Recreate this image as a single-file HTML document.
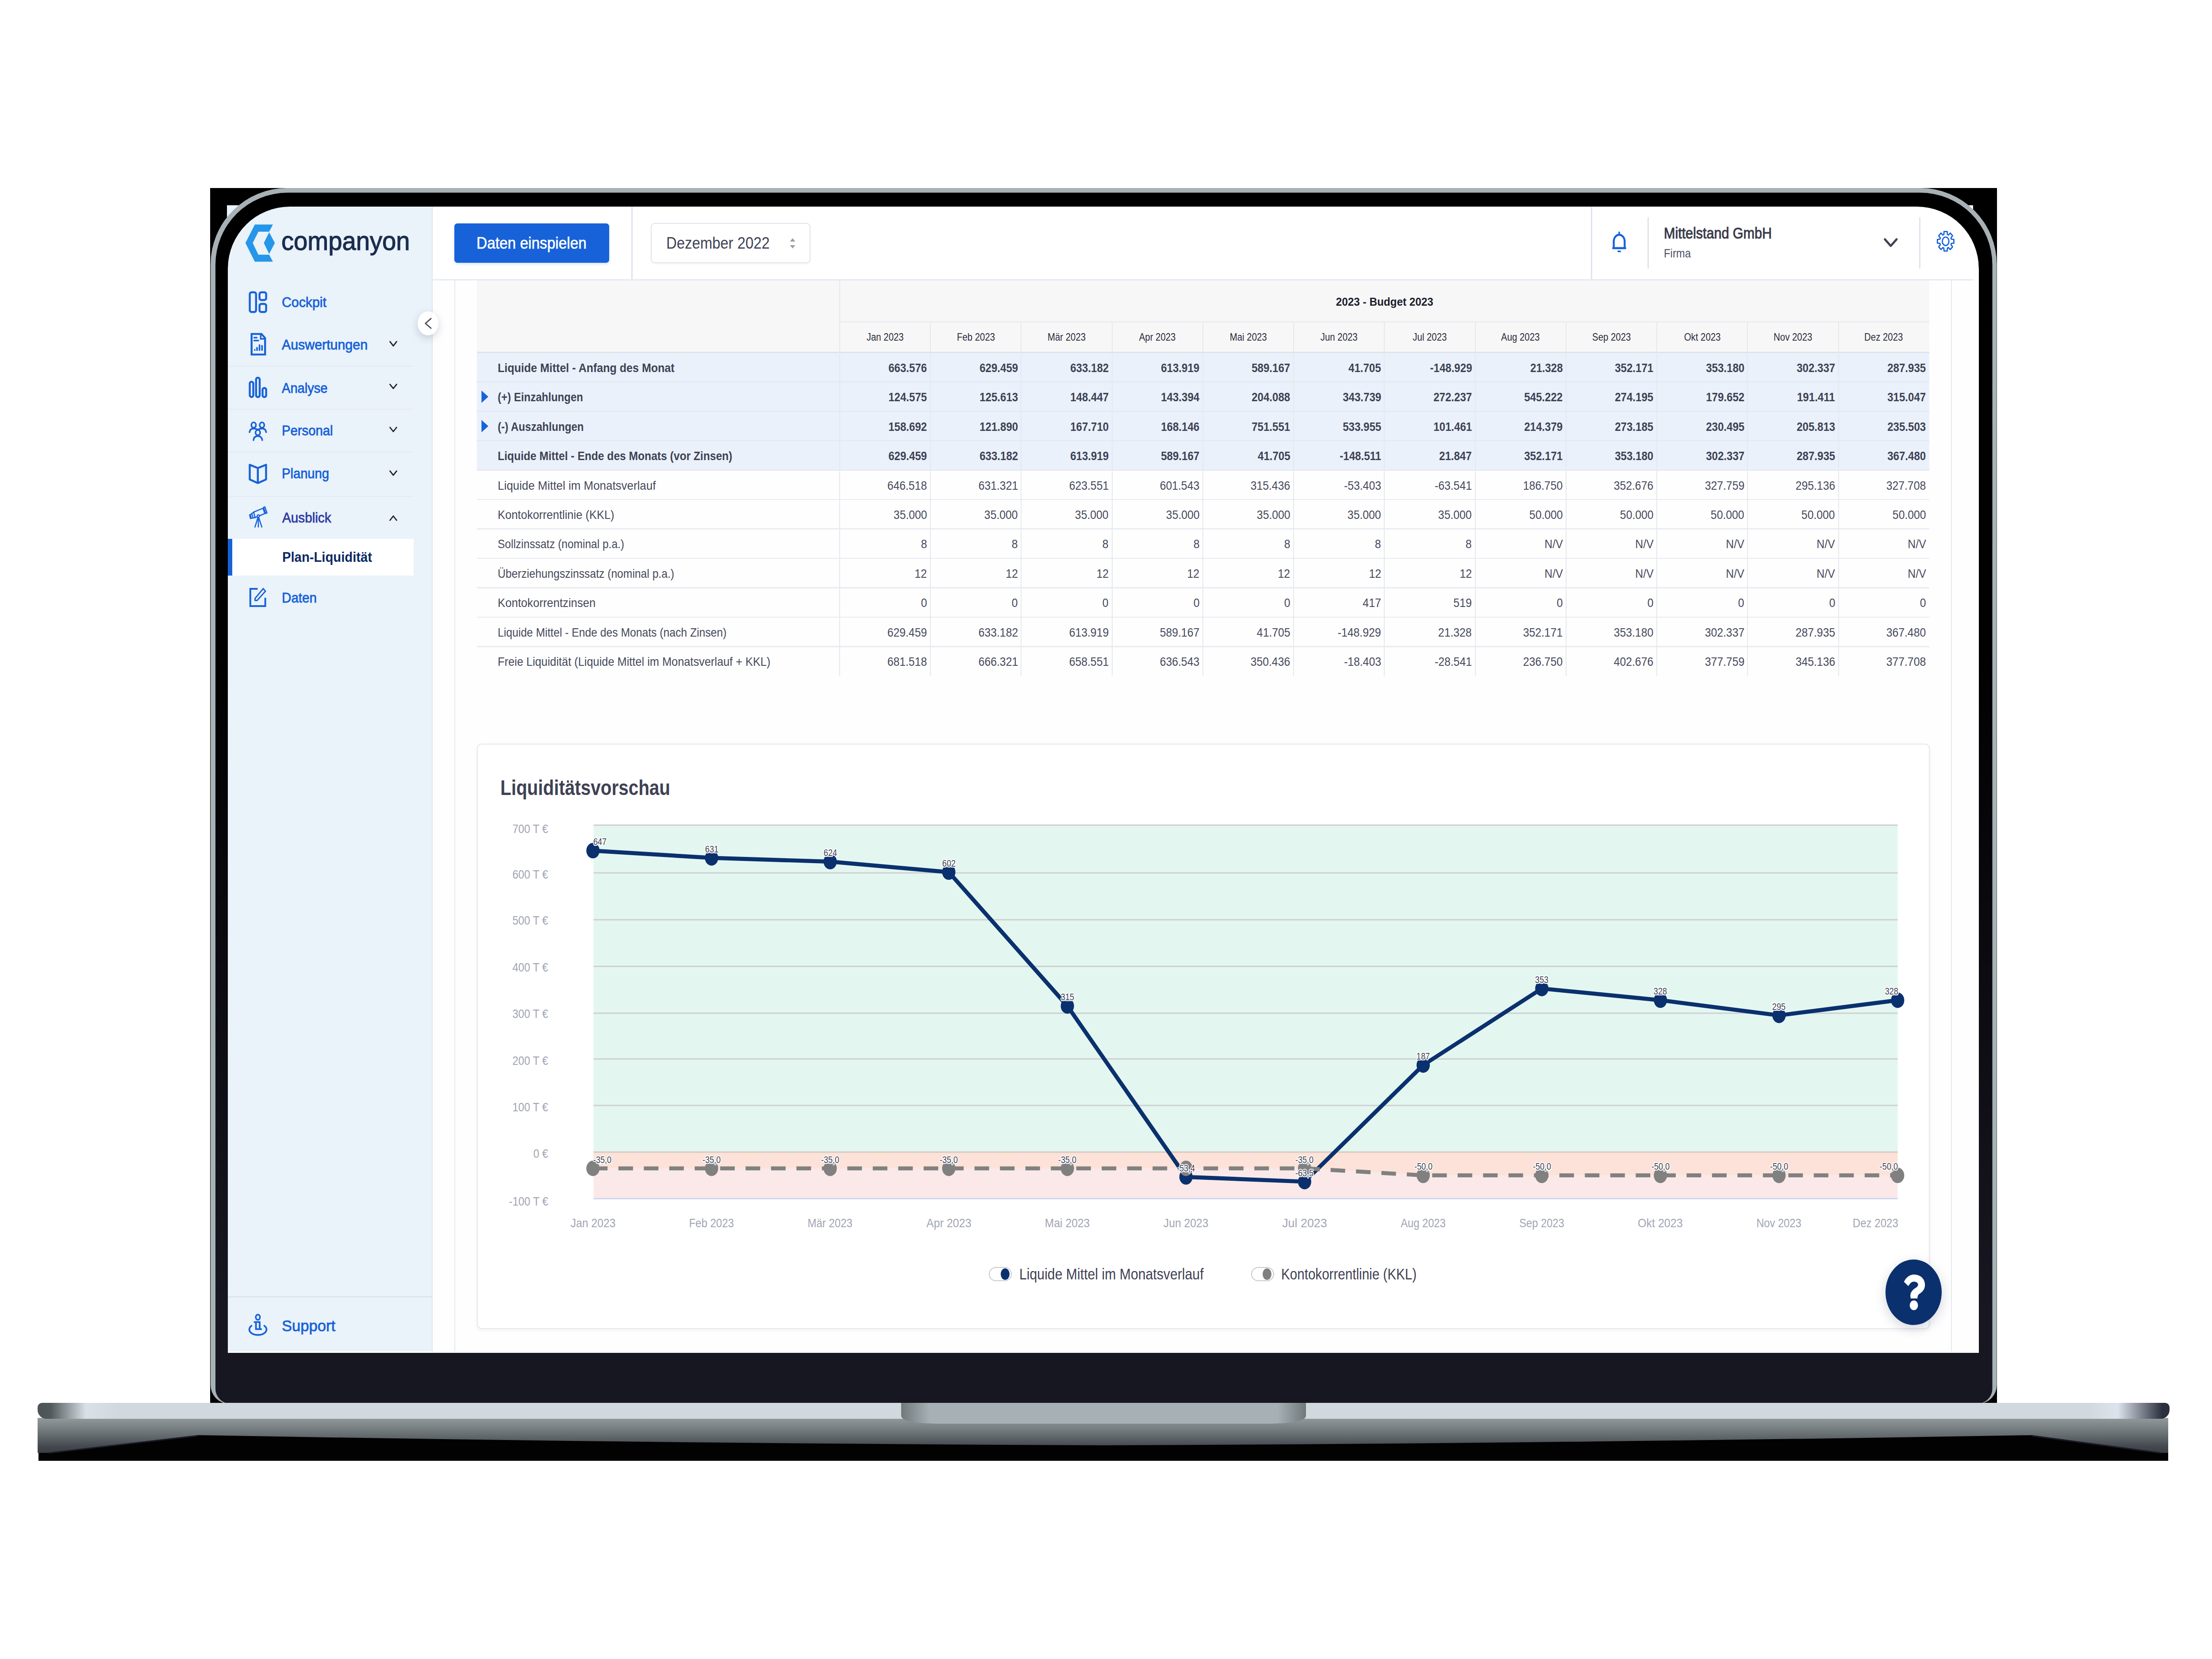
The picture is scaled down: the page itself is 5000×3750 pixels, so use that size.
<!DOCTYPE html>
<html lang="de"><head><meta charset="utf-8"><title>companyon – Plan-Liquidität</title>
<style>
html,body{margin:0;padding:0;background:#fff}
body{width:5000px;height:3750px;position:relative;overflow:hidden;font-family:"Liberation Sans",sans-serif}
.r,.a,.t{position:absolute}
.t{white-space:nowrap;line-height:1;display:block}
#blk{left:475px;top:425px;width:4039px;height:2747px;background:#000}
#wht{left:515px;top:467px;width:3958px;height:2591px;background:#fefefe;border-radius:140px 140px 0 0}
#scr{left:513px;top:464px;width:3947px;height:2591px;overflow:hidden;background:#fefefe}
</style></head><body>
<div id="blk" class="r"></div>
<div id="wht" class="r"></div>
<div id="scr" class="r">
<div class="r" style="left:0.0px;top:0.0px;width:464.5px;height:2591.0px;background:#eaf2fa;"></div>
<div class="r" style="left:462.5px;top:0.0px;width:2.5px;height:2591.0px;background:#dfe5f0;"></div>
<div class="r" style="left:465.0px;top:0.0px;width:3482.0px;height:167.0px;background:#fff;"></div>
<div class="r" style="left:465.0px;top:167.0px;width:3482.0px;height:3.0px;background:#e8eaf2;"></div>
<div class="r" style="left:914.4px;top:0.0px;width:2.4px;height:168.0px;background:#e0e3ed;"></div>
<div class="r" style="left:3083.4px;top:0.0px;width:2.4px;height:168.0px;background:#e0e3ed;"></div>
<div class="r" style="left:3211.4px;top:27.0px;width:2.4px;height:116.0px;background:#e0e3ed;"></div>
<div class="r" style="left:3825.4px;top:27.0px;width:2.4px;height:116.0px;background:#e0e3ed;"></div>
<div class="r" style="left:513.8px;top:170.0px;width:2.6px;height:2421.0px;background:#e6e8f1;"></div>
<div class="r" style="left:3896.8px;top:170.0px;width:2.6px;height:2421.0px;background:#e6e8f1;"></div>
<svg class="a" style="left:37px;top:36px" width="80" height="100" viewBox="550 500 80 100"><path fill="#2596ea" d="M554.8,549.2 L576,507.5 L616.9,507.5 L608.4,523.8 L584,523.8 L571.3,549.2 L584,575.8 L608.4,575.8 L616.9,591.6 L576,591.6 Z"/><path fill="#2596ea" d="M608.4,525.1 L621.3,549.2 L608.4,574.1 L596.4,549.2 Z"/></svg>
<span class="t" style="left:122.9px;top:51.5px;font-size:58.5px;color:#1b2d4e;transform:scaleX(0.9605);transform-origin:0 50%;-webkit-text-stroke:1.3px #1b2d4e;">companyon</span>
<span class="t" style="left:124.0px;top:204.1px;font-size:31.0px;color:#1762d9;transform:scaleX(0.9771);transform-origin:0 50%;-webkit-text-stroke:0.9px #1762d9;">Cockpit</span>
<span class="t" style="left:124.0px;top:300.3px;font-size:31.0px;color:#1762d9;transform:scaleX(0.9789);transform-origin:0 50%;-webkit-text-stroke:0.9px #1762d9;">Auswertungen</span>
<span class="t" style="left:124.0px;top:397.6px;font-size:31.0px;color:#1762d9;transform:scaleX(0.9385);transform-origin:0 50%;-webkit-text-stroke:0.9px #1762d9;">Analyse</span>
<span class="t" style="left:124.0px;top:493.8px;font-size:31.0px;color:#1762d9;transform:scaleX(0.9440);transform-origin:0 50%;-webkit-text-stroke:0.9px #1762d9;">Personal</span>
<span class="t" style="left:124.0px;top:590.8px;font-size:31.0px;color:#1762d9;transform:scaleX(0.9405);transform-origin:0 50%;-webkit-text-stroke:0.9px #1762d9;">Planung</span>
<span class="t" style="left:124.0px;top:871.8px;font-size:31.0px;color:#1762d9;transform:scaleX(0.9550);transform-origin:0 50%;-webkit-text-stroke:0.9px #1762d9;">Daten</span>
<span class="t" style="left:124.5px;top:691.1px;font-size:31.0px;color:#2f3ea5;transform:scaleX(0.9573);transform-origin:0 50%;-webkit-text-stroke:0.9px #2f3ea5;">Ausblick</span>
<div class="r" style="left:0.0px;top:754.3px;width:12.0px;height:82.7px;background:#1762d9;"></div>
<div class="r" style="left:12.0px;top:754.3px;width:410.0px;height:82.7px;background:#fff;"></div>
<span class="t" style="left:124.5px;top:779.7px;font-size:30.5px;color:#0b2a63;transform:scaleX(0.9585);transform-origin:0 50%;font-weight:700;">Plan-Liquidität</span>
<span class="t" style="left:124.0px;top:2515.1px;font-size:35.0px;color:#1762d9;transform:scaleX(0.9871);transform-origin:0 50%;-webkit-text-stroke:0.9px #1762d9;">Support</span>
<div class="r" style="left:2.0px;top:362.5px;width:420.0px;height:2.0px;background:#e5eaf4;"></div>
<div class="r" style="left:2.0px;top:460.0px;width:420.0px;height:2.0px;background:#e5eaf4;"></div>
<div class="r" style="left:2.0px;top:557.0px;width:420.0px;height:2.0px;background:#e5eaf4;"></div>
<div class="r" style="left:2.0px;top:657.0px;width:420.0px;height:2.0px;background:#e5eaf4;"></div>
<div class="r" style="left:2.0px;top:2465.5px;width:461.0px;height:3.0px;background:#dde3ee;"></div>

<div class="r" style="left:431px;top:240.29999999999995px;width:46.5px;height:53.7px;border-radius:50%;background:#fff;box-shadow:0 6px 18px rgba(60,70,100,.22)"></div>
<svg class="a" style="left:431px;top:240px" width="47" height="54" viewBox="944 704 47 54"><path d="M974.3,720 L961.6,731 L974.3,742" fill="none" stroke="#3f4254" stroke-width="2.6" stroke-linecap="round" stroke-linejoin="round"/></svg>
<div class="r" style="left:513.7px;top:40.5px;width:350px;height:89.5px;border-radius:7px;background:#1762d9;box-shadow:0 3px 6px rgba(23,98,217,.18)"></div>
<span class="t" style="left:564.2px;top:67.1px;font-size:37.7px;color:#fff;transform:scaleX(0.8866);transform-origin:0 50%;-webkit-text-stroke:0.7px #fff;">Daten einspielen</span>
<div class="r" style="left:958px;top:39.5px;width:360.8px;height:91px;border-radius:9px;background:#fff;border:2.2px solid #e2e4ed;box-sizing:border-box;box-shadow:0 2px 4px rgba(0,0,0,.04)"></div>
<span class="t" style="left:992.8px;top:67.1px;font-size:37.7px;color:#3f4254;transform:scaleX(0.8716);transform-origin:0 50%;">Dezember 2022</span>
<span class="t" style="left:3248.3px;top:45.7px;font-size:34.7px;color:#3a3c4c;transform:scaleX(0.8787);transform-origin:0 50%;-webkit-text-stroke:1.1px #3a3c4c;">Mittelstand GmbH</span>
<span class="t" style="left:3248.3px;top:95.3px;font-size:28.0px;color:#4f5366;transform:scaleX(0.8526);transform-origin:0 50%;">Firma</span>
<div class="r" style="left:564.7px;top:170.0px;width:3283.1px;height:162.8px;background:#f7f7f8;"></div>
<div class="r" style="left:564.7px;top:332.8px;width:3283.1px;height:265.9px;background:#eaf1fb;"></div>
<div class="r" style="left:1384.7px;top:262.3px;width:2463.1px;height:2.3px;background:#ececf0;"></div>
<div class="r" style="left:564.7px;top:331.3px;width:3283.1px;height:3.0px;background:#dfe2ea;"></div>
<div class="r" style="left:564.7px;top:398.1px;width:3283.1px;height:2.4px;background:#e3e6ee;"></div>
<div class="r" style="left:564.7px;top:464.5px;width:3283.1px;height:2.4px;background:#e3e6ee;"></div>
<div class="r" style="left:564.7px;top:531.0px;width:3283.1px;height:2.4px;background:#e3e6ee;"></div>
<div class="r" style="left:564.7px;top:597.5px;width:3283.1px;height:2.4px;background:#e3e6ee;"></div>
<div class="r" style="left:564.7px;top:664.0px;width:3283.1px;height:2.4px;background:#e9ebf1;"></div>
<div class="r" style="left:564.7px;top:730.4px;width:3283.1px;height:2.4px;background:#e9ebf1;"></div>
<div class="r" style="left:564.7px;top:796.9px;width:3283.1px;height:2.4px;background:#e9ebf1;"></div>
<div class="r" style="left:564.7px;top:863.4px;width:3283.1px;height:2.4px;background:#e9ebf1;"></div>
<div class="r" style="left:564.7px;top:929.9px;width:3283.1px;height:2.4px;background:#e9ebf1;"></div>
<div class="r" style="left:564.7px;top:996.3px;width:3283.1px;height:2.4px;background:#e9ebf1;"></div>
<div class="r" style="left:1383.7px;top:170.0px;width:2.0px;height:894.0px;background:#e6e8ee;"></div>
<div class="r" style="left:1589.0px;top:263.6px;width:2.0px;height:800.4px;background:#e6e8ee;"></div>
<div class="r" style="left:1794.2px;top:263.6px;width:2.0px;height:800.4px;background:#e6e8ee;"></div>
<div class="r" style="left:1999.5px;top:263.6px;width:2.0px;height:800.4px;background:#e6e8ee;"></div>
<div class="r" style="left:2204.7px;top:263.6px;width:2.0px;height:800.4px;background:#e6e8ee;"></div>
<div class="r" style="left:2410.0px;top:263.6px;width:2.0px;height:800.4px;background:#e6e8ee;"></div>
<div class="r" style="left:2615.2px;top:263.6px;width:2.0px;height:800.4px;background:#e6e8ee;"></div>
<div class="r" style="left:2820.5px;top:263.6px;width:2.0px;height:800.4px;background:#e6e8ee;"></div>
<div class="r" style="left:3025.8px;top:263.6px;width:2.0px;height:800.4px;background:#e6e8ee;"></div>
<div class="r" style="left:3231.0px;top:263.6px;width:2.0px;height:800.4px;background:#e6e8ee;"></div>
<div class="r" style="left:3436.3px;top:263.6px;width:2.0px;height:800.4px;background:#e6e8ee;"></div>
<div class="r" style="left:3641.5px;top:263.6px;width:2.0px;height:800.4px;background:#e6e8ee;"></div>
<span class="t" style="left:2498.5px;top:204.7px;font-size:26.0px;color:#1e1e2d;transform:scaleX(0.9340);transform-origin:50% 50%;font-weight:700;">2023 - Budget 2023</span>
<span class="t" style="left:1438.6px;top:287.3px;font-size:23.7px;color:#2b2d3b;transform:scaleX(0.8600);transform-origin:50% 50%;">Jan 2023</span>
<span class="t" style="left:1642.5px;top:287.3px;font-size:23.7px;color:#2b2d3b;transform:scaleX(0.8600);transform-origin:50% 50%;">Feb 2023</span>
<span class="t" style="left:1847.8px;top:287.3px;font-size:23.7px;color:#2b2d3b;transform:scaleX(0.8600);transform-origin:50% 50%;">Mär 2023</span>
<span class="t" style="left:2055.0px;top:287.3px;font-size:23.7px;color:#2b2d3b;transform:scaleX(0.8600);transform-origin:50% 50%;">Apr 2023</span>
<span class="t" style="left:2259.6px;top:287.3px;font-size:23.7px;color:#2b2d3b;transform:scaleX(0.8600);transform-origin:50% 50%;">Mai 2023</span>
<span class="t" style="left:2464.9px;top:287.3px;font-size:23.7px;color:#2b2d3b;transform:scaleX(0.8600);transform-origin:50% 50%;">Jun 2023</span>
<span class="t" style="left:2674.1px;top:287.3px;font-size:23.7px;color:#2b2d3b;transform:scaleX(0.8600);transform-origin:50% 50%;">Jul 2023</span>
<span class="t" style="left:2873.4px;top:287.3px;font-size:23.7px;color:#2b2d3b;transform:scaleX(0.8600);transform-origin:50% 50%;">Aug 2023</span>
<span class="t" style="left:3078.7px;top:287.3px;font-size:23.7px;color:#2b2d3b;transform:scaleX(0.8600);transform-origin:50% 50%;">Sep 2023</span>
<span class="t" style="left:3286.6px;top:287.3px;font-size:23.7px;color:#2b2d3b;transform:scaleX(0.8600);transform-origin:50% 50%;">Okt 2023</span>
<span class="t" style="left:3489.2px;top:287.3px;font-size:23.7px;color:#2b2d3b;transform:scaleX(0.8600);transform-origin:50% 50%;">Nov 2023</span>
<span class="t" style="left:3694.4px;top:287.3px;font-size:23.7px;color:#2b2d3b;transform:scaleX(0.8600);transform-origin:50% 50%;">Dez 2023</span>
<span class="t" style="left:612.3px;top:353.6px;font-size:28.0px;color:#3f4254;transform:scaleX(0.8941);transform-origin:0 50%;font-weight:700;">Liquide Mittel - Anfang des Monat</span>
<span class="t" style="left:1481.2px;top:353.6px;font-size:28.0px;color:#3f4254;transform:scaleX(0.8600);transform-origin:100% 50%;font-weight:700;">663.576</span>
<span class="t" style="left:1686.5px;top:353.6px;font-size:28.0px;color:#3f4254;transform:scaleX(0.8600);transform-origin:100% 50%;font-weight:700;">629.459</span>
<span class="t" style="left:1891.8px;top:353.6px;font-size:28.0px;color:#3f4254;transform:scaleX(0.8600);transform-origin:100% 50%;font-weight:700;">633.182</span>
<span class="t" style="left:2097.0px;top:353.6px;font-size:28.0px;color:#3f4254;transform:scaleX(0.8600);transform-origin:100% 50%;font-weight:700;">613.919</span>
<span class="t" style="left:2302.3px;top:353.6px;font-size:28.0px;color:#3f4254;transform:scaleX(0.8600);transform-origin:100% 50%;font-weight:700;">589.167</span>
<span class="t" style="left:2523.1px;top:353.6px;font-size:28.0px;color:#3f4254;transform:scaleX(0.8600);transform-origin:100% 50%;font-weight:700;">41.705</span>
<span class="t" style="left:2703.5px;top:353.6px;font-size:28.0px;color:#3f4254;transform:scaleX(0.8600);transform-origin:100% 50%;font-weight:700;">-148.929</span>
<span class="t" style="left:2933.6px;top:353.6px;font-size:28.0px;color:#3f4254;transform:scaleX(0.8600);transform-origin:100% 50%;font-weight:700;">21.328</span>
<span class="t" style="left:3123.3px;top:353.6px;font-size:28.0px;color:#3f4254;transform:scaleX(0.8600);transform-origin:100% 50%;font-weight:700;">352.171</span>
<span class="t" style="left:3328.6px;top:353.6px;font-size:28.0px;color:#3f4254;transform:scaleX(0.8600);transform-origin:100% 50%;font-weight:700;">353.180</span>
<span class="t" style="left:3533.8px;top:353.6px;font-size:28.0px;color:#3f4254;transform:scaleX(0.8600);transform-origin:100% 50%;font-weight:700;">302.337</span>
<span class="t" style="left:3739.1px;top:353.6px;font-size:28.0px;color:#3f4254;transform:scaleX(0.8600);transform-origin:100% 50%;font-weight:700;">287.935</span>
<span class="t" style="left:612.3px;top:420.1px;font-size:28.0px;color:#3f4254;transform:scaleX(0.8586);transform-origin:0 50%;font-weight:700;">(+) Einzahlungen</span>
<span class="t" style="left:1481.2px;top:420.1px;font-size:28.0px;color:#3f4254;transform:scaleX(0.8600);transform-origin:100% 50%;font-weight:700;">124.575</span>
<span class="t" style="left:1686.5px;top:420.1px;font-size:28.0px;color:#3f4254;transform:scaleX(0.8600);transform-origin:100% 50%;font-weight:700;">125.613</span>
<span class="t" style="left:1891.8px;top:420.1px;font-size:28.0px;color:#3f4254;transform:scaleX(0.8600);transform-origin:100% 50%;font-weight:700;">148.447</span>
<span class="t" style="left:2097.0px;top:420.1px;font-size:28.0px;color:#3f4254;transform:scaleX(0.8600);transform-origin:100% 50%;font-weight:700;">143.394</span>
<span class="t" style="left:2302.3px;top:420.1px;font-size:28.0px;color:#3f4254;transform:scaleX(0.8600);transform-origin:100% 50%;font-weight:700;">204.088</span>
<span class="t" style="left:2507.5px;top:420.1px;font-size:28.0px;color:#3f4254;transform:scaleX(0.8600);transform-origin:100% 50%;font-weight:700;">343.739</span>
<span class="t" style="left:2712.8px;top:420.1px;font-size:28.0px;color:#3f4254;transform:scaleX(0.8600);transform-origin:100% 50%;font-weight:700;">272.237</span>
<span class="t" style="left:2918.1px;top:420.1px;font-size:28.0px;color:#3f4254;transform:scaleX(0.8600);transform-origin:100% 50%;font-weight:700;">545.222</span>
<span class="t" style="left:3123.3px;top:420.1px;font-size:28.0px;color:#3f4254;transform:scaleX(0.8600);transform-origin:100% 50%;font-weight:700;">274.195</span>
<span class="t" style="left:3328.6px;top:420.1px;font-size:28.0px;color:#3f4254;transform:scaleX(0.8600);transform-origin:100% 50%;font-weight:700;">179.652</span>
<span class="t" style="left:3535.4px;top:420.1px;font-size:28.0px;color:#3f4254;transform:scaleX(0.8600);transform-origin:100% 50%;font-weight:700;">191.411</span>
<span class="t" style="left:3739.1px;top:420.1px;font-size:28.0px;color:#3f4254;transform:scaleX(0.8600);transform-origin:100% 50%;font-weight:700;">315.047</span>
<span class="t" style="left:612.3px;top:486.5px;font-size:28.0px;color:#3f4254;transform:scaleX(0.8604);transform-origin:0 50%;font-weight:700;">(-) Auszahlungen</span>
<span class="t" style="left:1481.2px;top:486.5px;font-size:28.0px;color:#3f4254;transform:scaleX(0.8600);transform-origin:100% 50%;font-weight:700;">158.692</span>
<span class="t" style="left:1686.5px;top:486.5px;font-size:28.0px;color:#3f4254;transform:scaleX(0.8600);transform-origin:100% 50%;font-weight:700;">121.890</span>
<span class="t" style="left:1891.8px;top:486.5px;font-size:28.0px;color:#3f4254;transform:scaleX(0.8600);transform-origin:100% 50%;font-weight:700;">167.710</span>
<span class="t" style="left:2097.0px;top:486.5px;font-size:28.0px;color:#3f4254;transform:scaleX(0.8600);transform-origin:100% 50%;font-weight:700;">168.146</span>
<span class="t" style="left:2302.3px;top:486.5px;font-size:28.0px;color:#3f4254;transform:scaleX(0.8600);transform-origin:100% 50%;font-weight:700;">751.551</span>
<span class="t" style="left:2507.5px;top:486.5px;font-size:28.0px;color:#3f4254;transform:scaleX(0.8600);transform-origin:100% 50%;font-weight:700;">533.955</span>
<span class="t" style="left:2712.8px;top:486.5px;font-size:28.0px;color:#3f4254;transform:scaleX(0.8600);transform-origin:100% 50%;font-weight:700;">101.461</span>
<span class="t" style="left:2918.1px;top:486.5px;font-size:28.0px;color:#3f4254;transform:scaleX(0.8600);transform-origin:100% 50%;font-weight:700;">214.379</span>
<span class="t" style="left:3123.3px;top:486.5px;font-size:28.0px;color:#3f4254;transform:scaleX(0.8600);transform-origin:100% 50%;font-weight:700;">273.185</span>
<span class="t" style="left:3328.6px;top:486.5px;font-size:28.0px;color:#3f4254;transform:scaleX(0.8600);transform-origin:100% 50%;font-weight:700;">230.495</span>
<span class="t" style="left:3533.8px;top:486.5px;font-size:28.0px;color:#3f4254;transform:scaleX(0.8600);transform-origin:100% 50%;font-weight:700;">205.813</span>
<span class="t" style="left:3739.1px;top:486.5px;font-size:28.0px;color:#3f4254;transform:scaleX(0.8600);transform-origin:100% 50%;font-weight:700;">235.503</span>
<span class="t" style="left:612.3px;top:553.0px;font-size:28.0px;color:#3f4254;transform:scaleX(0.8786);transform-origin:0 50%;font-weight:700;">Liquide Mittel - Ende des Monats (vor Zinsen)</span>
<span class="t" style="left:1481.2px;top:553.0px;font-size:28.0px;color:#3f4254;transform:scaleX(0.8600);transform-origin:100% 50%;font-weight:700;">629.459</span>
<span class="t" style="left:1686.5px;top:553.0px;font-size:28.0px;color:#3f4254;transform:scaleX(0.8600);transform-origin:100% 50%;font-weight:700;">633.182</span>
<span class="t" style="left:1891.8px;top:553.0px;font-size:28.0px;color:#3f4254;transform:scaleX(0.8600);transform-origin:100% 50%;font-weight:700;">613.919</span>
<span class="t" style="left:2097.0px;top:553.0px;font-size:28.0px;color:#3f4254;transform:scaleX(0.8600);transform-origin:100% 50%;font-weight:700;">589.167</span>
<span class="t" style="left:2317.9px;top:553.0px;font-size:28.0px;color:#3f4254;transform:scaleX(0.8600);transform-origin:100% 50%;font-weight:700;">41.705</span>
<span class="t" style="left:2499.8px;top:553.0px;font-size:28.0px;color:#3f4254;transform:scaleX(0.8600);transform-origin:100% 50%;font-weight:700;">-148.511</span>
<span class="t" style="left:2728.4px;top:553.0px;font-size:28.0px;color:#3f4254;transform:scaleX(0.8600);transform-origin:100% 50%;font-weight:700;">21.847</span>
<span class="t" style="left:2918.1px;top:553.0px;font-size:28.0px;color:#3f4254;transform:scaleX(0.8600);transform-origin:100% 50%;font-weight:700;">352.171</span>
<span class="t" style="left:3123.3px;top:553.0px;font-size:28.0px;color:#3f4254;transform:scaleX(0.8600);transform-origin:100% 50%;font-weight:700;">353.180</span>
<span class="t" style="left:3328.6px;top:553.0px;font-size:28.0px;color:#3f4254;transform:scaleX(0.8600);transform-origin:100% 50%;font-weight:700;">302.337</span>
<span class="t" style="left:3533.8px;top:553.0px;font-size:28.0px;color:#3f4254;transform:scaleX(0.8600);transform-origin:100% 50%;font-weight:700;">287.935</span>
<span class="t" style="left:3739.1px;top:553.0px;font-size:28.0px;color:#3f4254;transform:scaleX(0.8600);transform-origin:100% 50%;font-weight:700;">367.480</span>
<span class="t" style="left:612.3px;top:619.5px;font-size:28.0px;color:#464a5c;transform:scaleX(0.9260);transform-origin:0 50%;">Liquide Mittel im Monatsverlauf</span>
<span class="t" style="left:1481.2px;top:619.5px;font-size:28.0px;color:#464a5c;transform:scaleX(0.8850);transform-origin:100% 50%;">646.518</span>
<span class="t" style="left:1686.5px;top:619.5px;font-size:28.0px;color:#464a5c;transform:scaleX(0.8850);transform-origin:100% 50%;">631.321</span>
<span class="t" style="left:1891.8px;top:619.5px;font-size:28.0px;color:#464a5c;transform:scaleX(0.8850);transform-origin:100% 50%;">623.551</span>
<span class="t" style="left:2097.0px;top:619.5px;font-size:28.0px;color:#464a5c;transform:scaleX(0.8850);transform-origin:100% 50%;">601.543</span>
<span class="t" style="left:2302.3px;top:619.5px;font-size:28.0px;color:#464a5c;transform:scaleX(0.8850);transform-origin:100% 50%;">315.436</span>
<span class="t" style="left:2513.8px;top:619.5px;font-size:28.0px;color:#464a5c;transform:scaleX(0.8850);transform-origin:100% 50%;">-53.403</span>
<span class="t" style="left:2719.0px;top:619.5px;font-size:28.0px;color:#464a5c;transform:scaleX(0.8850);transform-origin:100% 50%;">-63.541</span>
<span class="t" style="left:2918.1px;top:619.5px;font-size:28.0px;color:#464a5c;transform:scaleX(0.8850);transform-origin:100% 50%;">186.750</span>
<span class="t" style="left:3123.3px;top:619.5px;font-size:28.0px;color:#464a5c;transform:scaleX(0.8850);transform-origin:100% 50%;">352.676</span>
<span class="t" style="left:3328.6px;top:619.5px;font-size:28.0px;color:#464a5c;transform:scaleX(0.8850);transform-origin:100% 50%;">327.759</span>
<span class="t" style="left:3533.8px;top:619.5px;font-size:28.0px;color:#464a5c;transform:scaleX(0.8850);transform-origin:100% 50%;">295.136</span>
<span class="t" style="left:3739.1px;top:619.5px;font-size:28.0px;color:#464a5c;transform:scaleX(0.8850);transform-origin:100% 50%;">327.708</span>
<span class="t" style="left:612.3px;top:686.0px;font-size:28.0px;color:#464a5c;transform:scaleX(0.9106);transform-origin:0 50%;">Kontokorrentlinie (KKL)</span>
<span class="t" style="left:1496.8px;top:686.0px;font-size:28.0px;color:#464a5c;transform:scaleX(0.8850);transform-origin:100% 50%;">35.000</span>
<span class="t" style="left:1702.1px;top:686.0px;font-size:28.0px;color:#464a5c;transform:scaleX(0.8850);transform-origin:100% 50%;">35.000</span>
<span class="t" style="left:1907.3px;top:686.0px;font-size:28.0px;color:#464a5c;transform:scaleX(0.8850);transform-origin:100% 50%;">35.000</span>
<span class="t" style="left:2112.6px;top:686.0px;font-size:28.0px;color:#464a5c;transform:scaleX(0.8850);transform-origin:100% 50%;">35.000</span>
<span class="t" style="left:2317.9px;top:686.0px;font-size:28.0px;color:#464a5c;transform:scaleX(0.8850);transform-origin:100% 50%;">35.000</span>
<span class="t" style="left:2523.1px;top:686.0px;font-size:28.0px;color:#464a5c;transform:scaleX(0.8850);transform-origin:100% 50%;">35.000</span>
<span class="t" style="left:2728.4px;top:686.0px;font-size:28.0px;color:#464a5c;transform:scaleX(0.8850);transform-origin:100% 50%;">35.000</span>
<span class="t" style="left:2933.6px;top:686.0px;font-size:28.0px;color:#464a5c;transform:scaleX(0.8850);transform-origin:100% 50%;">50.000</span>
<span class="t" style="left:3138.9px;top:686.0px;font-size:28.0px;color:#464a5c;transform:scaleX(0.8850);transform-origin:100% 50%;">50.000</span>
<span class="t" style="left:3344.1px;top:686.0px;font-size:28.0px;color:#464a5c;transform:scaleX(0.8850);transform-origin:100% 50%;">50.000</span>
<span class="t" style="left:3549.4px;top:686.0px;font-size:28.0px;color:#464a5c;transform:scaleX(0.8850);transform-origin:100% 50%;">50.000</span>
<span class="t" style="left:3754.7px;top:686.0px;font-size:28.0px;color:#464a5c;transform:scaleX(0.8850);transform-origin:100% 50%;">50.000</span>
<span class="t" style="left:612.3px;top:752.4px;font-size:28.0px;color:#464a5c;transform:scaleX(0.8752);transform-origin:0 50%;">Sollzinssatz (nominal p.a.)</span>
<span class="t" style="left:1566.9px;top:752.4px;font-size:28.0px;color:#464a5c;transform:scaleX(0.8850);transform-origin:100% 50%;">8</span>
<span class="t" style="left:1772.1px;top:752.4px;font-size:28.0px;color:#464a5c;transform:scaleX(0.8850);transform-origin:100% 50%;">8</span>
<span class="t" style="left:1977.4px;top:752.4px;font-size:28.0px;color:#464a5c;transform:scaleX(0.8850);transform-origin:100% 50%;">8</span>
<span class="t" style="left:2182.7px;top:752.4px;font-size:28.0px;color:#464a5c;transform:scaleX(0.8850);transform-origin:100% 50%;">8</span>
<span class="t" style="left:2387.9px;top:752.4px;font-size:28.0px;color:#464a5c;transform:scaleX(0.8850);transform-origin:100% 50%;">8</span>
<span class="t" style="left:2593.2px;top:752.4px;font-size:28.0px;color:#464a5c;transform:scaleX(0.8850);transform-origin:100% 50%;">8</span>
<span class="t" style="left:2798.4px;top:752.4px;font-size:28.0px;color:#464a5c;transform:scaleX(0.8850);transform-origin:100% 50%;">8</span>
<span class="t" style="left:2972.6px;top:752.4px;font-size:28.0px;color:#464a5c;transform:scaleX(0.8850);transform-origin:100% 50%;">N/V</span>
<span class="t" style="left:3177.8px;top:752.4px;font-size:28.0px;color:#464a5c;transform:scaleX(0.8850);transform-origin:100% 50%;">N/V</span>
<span class="t" style="left:3383.1px;top:752.4px;font-size:28.0px;color:#464a5c;transform:scaleX(0.8850);transform-origin:100% 50%;">N/V</span>
<span class="t" style="left:3588.4px;top:752.4px;font-size:28.0px;color:#464a5c;transform:scaleX(0.8850);transform-origin:100% 50%;">N/V</span>
<span class="t" style="left:3793.6px;top:752.4px;font-size:28.0px;color:#464a5c;transform:scaleX(0.8850);transform-origin:100% 50%;">N/V</span>
<span class="t" style="left:612.3px;top:818.9px;font-size:28.0px;color:#464a5c;transform:scaleX(0.8810);transform-origin:0 50%;">Überziehungszinssatz (nominal p.a.)</span>
<span class="t" style="left:1551.3px;top:818.9px;font-size:28.0px;color:#464a5c;transform:scaleX(0.8850);transform-origin:100% 50%;">12</span>
<span class="t" style="left:1756.6px;top:818.9px;font-size:28.0px;color:#464a5c;transform:scaleX(0.8850);transform-origin:100% 50%;">12</span>
<span class="t" style="left:1961.8px;top:818.9px;font-size:28.0px;color:#464a5c;transform:scaleX(0.8850);transform-origin:100% 50%;">12</span>
<span class="t" style="left:2167.1px;top:818.9px;font-size:28.0px;color:#464a5c;transform:scaleX(0.8850);transform-origin:100% 50%;">12</span>
<span class="t" style="left:2372.3px;top:818.9px;font-size:28.0px;color:#464a5c;transform:scaleX(0.8850);transform-origin:100% 50%;">12</span>
<span class="t" style="left:2577.6px;top:818.9px;font-size:28.0px;color:#464a5c;transform:scaleX(0.8850);transform-origin:100% 50%;">12</span>
<span class="t" style="left:2782.9px;top:818.9px;font-size:28.0px;color:#464a5c;transform:scaleX(0.8850);transform-origin:100% 50%;">12</span>
<span class="t" style="left:2972.6px;top:818.9px;font-size:28.0px;color:#464a5c;transform:scaleX(0.8850);transform-origin:100% 50%;">N/V</span>
<span class="t" style="left:3177.8px;top:818.9px;font-size:28.0px;color:#464a5c;transform:scaleX(0.8850);transform-origin:100% 50%;">N/V</span>
<span class="t" style="left:3383.1px;top:818.9px;font-size:28.0px;color:#464a5c;transform:scaleX(0.8850);transform-origin:100% 50%;">N/V</span>
<span class="t" style="left:3588.4px;top:818.9px;font-size:28.0px;color:#464a5c;transform:scaleX(0.8850);transform-origin:100% 50%;">N/V</span>
<span class="t" style="left:3793.6px;top:818.9px;font-size:28.0px;color:#464a5c;transform:scaleX(0.8850);transform-origin:100% 50%;">N/V</span>
<span class="t" style="left:612.3px;top:885.4px;font-size:28.0px;color:#464a5c;transform:scaleX(0.9173);transform-origin:0 50%;">Kontokorrentzinsen</span>
<span class="t" style="left:1566.9px;top:885.4px;font-size:28.0px;color:#464a5c;transform:scaleX(0.8850);transform-origin:100% 50%;">0</span>
<span class="t" style="left:1772.1px;top:885.4px;font-size:28.0px;color:#464a5c;transform:scaleX(0.8850);transform-origin:100% 50%;">0</span>
<span class="t" style="left:1977.4px;top:885.4px;font-size:28.0px;color:#464a5c;transform:scaleX(0.8850);transform-origin:100% 50%;">0</span>
<span class="t" style="left:2182.7px;top:885.4px;font-size:28.0px;color:#464a5c;transform:scaleX(0.8850);transform-origin:100% 50%;">0</span>
<span class="t" style="left:2387.9px;top:885.4px;font-size:28.0px;color:#464a5c;transform:scaleX(0.8850);transform-origin:100% 50%;">0</span>
<span class="t" style="left:2562.0px;top:885.4px;font-size:28.0px;color:#464a5c;transform:scaleX(0.8850);transform-origin:100% 50%;">417</span>
<span class="t" style="left:2767.3px;top:885.4px;font-size:28.0px;color:#464a5c;transform:scaleX(0.8850);transform-origin:100% 50%;">519</span>
<span class="t" style="left:3003.7px;top:885.4px;font-size:28.0px;color:#464a5c;transform:scaleX(0.8850);transform-origin:100% 50%;">0</span>
<span class="t" style="left:3209.0px;top:885.4px;font-size:28.0px;color:#464a5c;transform:scaleX(0.8850);transform-origin:100% 50%;">0</span>
<span class="t" style="left:3414.2px;top:885.4px;font-size:28.0px;color:#464a5c;transform:scaleX(0.8850);transform-origin:100% 50%;">0</span>
<span class="t" style="left:3619.5px;top:885.4px;font-size:28.0px;color:#464a5c;transform:scaleX(0.8850);transform-origin:100% 50%;">0</span>
<span class="t" style="left:3824.7px;top:885.4px;font-size:28.0px;color:#464a5c;transform:scaleX(0.8850);transform-origin:100% 50%;">0</span>
<span class="t" style="left:612.3px;top:951.9px;font-size:28.0px;color:#464a5c;transform:scaleX(0.8815);transform-origin:0 50%;">Liquide Mittel - Ende des Monats (nach Zinsen)</span>
<span class="t" style="left:1481.2px;top:951.9px;font-size:28.0px;color:#464a5c;transform:scaleX(0.8850);transform-origin:100% 50%;">629.459</span>
<span class="t" style="left:1686.5px;top:951.9px;font-size:28.0px;color:#464a5c;transform:scaleX(0.8850);transform-origin:100% 50%;">633.182</span>
<span class="t" style="left:1891.8px;top:951.9px;font-size:28.0px;color:#464a5c;transform:scaleX(0.8850);transform-origin:100% 50%;">613.919</span>
<span class="t" style="left:2097.0px;top:951.9px;font-size:28.0px;color:#464a5c;transform:scaleX(0.8850);transform-origin:100% 50%;">589.167</span>
<span class="t" style="left:2317.9px;top:951.9px;font-size:28.0px;color:#464a5c;transform:scaleX(0.8850);transform-origin:100% 50%;">41.705</span>
<span class="t" style="left:2498.2px;top:951.9px;font-size:28.0px;color:#464a5c;transform:scaleX(0.8850);transform-origin:100% 50%;">-148.929</span>
<span class="t" style="left:2728.4px;top:951.9px;font-size:28.0px;color:#464a5c;transform:scaleX(0.8850);transform-origin:100% 50%;">21.328</span>
<span class="t" style="left:2918.1px;top:951.9px;font-size:28.0px;color:#464a5c;transform:scaleX(0.8850);transform-origin:100% 50%;">352.171</span>
<span class="t" style="left:3123.3px;top:951.9px;font-size:28.0px;color:#464a5c;transform:scaleX(0.8850);transform-origin:100% 50%;">353.180</span>
<span class="t" style="left:3328.6px;top:951.9px;font-size:28.0px;color:#464a5c;transform:scaleX(0.8850);transform-origin:100% 50%;">302.337</span>
<span class="t" style="left:3533.8px;top:951.9px;font-size:28.0px;color:#464a5c;transform:scaleX(0.8850);transform-origin:100% 50%;">287.935</span>
<span class="t" style="left:3739.1px;top:951.9px;font-size:28.0px;color:#464a5c;transform:scaleX(0.8850);transform-origin:100% 50%;">367.480</span>
<span class="t" style="left:612.3px;top:1018.3px;font-size:28.0px;color:#464a5c;transform:scaleX(0.9053);transform-origin:0 50%;">Freie Liquidität (Liquide Mittel im Monatsverlauf + KKL)</span>
<span class="t" style="left:1481.2px;top:1018.3px;font-size:28.0px;color:#464a5c;transform:scaleX(0.8850);transform-origin:100% 50%;">681.518</span>
<span class="t" style="left:1686.5px;top:1018.3px;font-size:28.0px;color:#464a5c;transform:scaleX(0.8850);transform-origin:100% 50%;">666.321</span>
<span class="t" style="left:1891.8px;top:1018.3px;font-size:28.0px;color:#464a5c;transform:scaleX(0.8850);transform-origin:100% 50%;">658.551</span>
<span class="t" style="left:2097.0px;top:1018.3px;font-size:28.0px;color:#464a5c;transform:scaleX(0.8850);transform-origin:100% 50%;">636.543</span>
<span class="t" style="left:2302.3px;top:1018.3px;font-size:28.0px;color:#464a5c;transform:scaleX(0.8850);transform-origin:100% 50%;">350.436</span>
<span class="t" style="left:2513.8px;top:1018.3px;font-size:28.0px;color:#464a5c;transform:scaleX(0.8850);transform-origin:100% 50%;">-18.403</span>
<span class="t" style="left:2719.0px;top:1018.3px;font-size:28.0px;color:#464a5c;transform:scaleX(0.8850);transform-origin:100% 50%;">-28.541</span>
<span class="t" style="left:2918.1px;top:1018.3px;font-size:28.0px;color:#464a5c;transform:scaleX(0.8850);transform-origin:100% 50%;">236.750</span>
<span class="t" style="left:3123.3px;top:1018.3px;font-size:28.0px;color:#464a5c;transform:scaleX(0.8850);transform-origin:100% 50%;">402.676</span>
<span class="t" style="left:3328.6px;top:1018.3px;font-size:28.0px;color:#464a5c;transform:scaleX(0.8850);transform-origin:100% 50%;">377.759</span>
<span class="t" style="left:3533.8px;top:1018.3px;font-size:28.0px;color:#464a5c;transform:scaleX(0.8850);transform-origin:100% 50%;">345.136</span>
<span class="t" style="left:3739.1px;top:1018.3px;font-size:28.0px;color:#464a5c;transform:scaleX(0.8850);transform-origin:100% 50%;">377.708</span>
<div class="r" style="left:564.5px;top:1217px;width:3284.5px;height:1322.5px;border-radius:11px;background:#fff;border:2.6px solid #e6e8f0;box-sizing:border-box;box-shadow:0 3px 9px rgba(80,90,120,.07)"></div>
<span class="t" style="left:617.5px;top:1291.8px;font-size:49.0px;color:#3f4254;transform:scaleX(0.8248);transform-origin:0 50%;font-weight:700;">Liquiditätsvorschau</span>
<svg class="a" style="left:0;top:0" width="3947" height="2591" viewBox="513 464 3947 2591"><rect x="1341.6" y="1865.1" width="2948.0" height="739.0" fill="#e3f7f0"/><polygon points="1341.6,2604.1 4289.6,2604.1 4289.4,2656.8 4021.3,2656.8 3753.2,2656.8 3485.1,2656.8 3217.0,2656.8 2948.9,2641.0 2680.8,2641.0 2412.7,2641.0 2144.6,2641.0 1876.5,2641.0 1608.4,2641.0 1341.6,2641.0" fill="#fce2d8"/><polygon points="1341.6,2709.4 4289.6,2709.4 4289.4,2656.8 4021.3,2656.8 3753.2,2656.8 3485.1,2656.8 3217.0,2656.8 2948.9,2641.0 2680.8,2641.0 2412.7,2641.0 2144.6,2641.0 1876.5,2641.0 1608.4,2641.0 1341.6,2641.0" fill="#fbe9e9"/><rect x="1341.6" y="2602.6" width="2948.0" height="3" fill="#d5c8bd"/><rect x="1341.6" y="2497.3" width="2948.0" height="3" fill="#cfcfd0"/><rect x="1341.6" y="2392.1" width="2948.0" height="3" fill="#cfcfd0"/><rect x="1341.6" y="2288.7" width="2948.0" height="3" fill="#cfcfd0"/><rect x="1341.6" y="2182.9" width="2948.0" height="3" fill="#cfcfd0"/><rect x="1341.6" y="2077.5" width="2948.0" height="3" fill="#cfcfd0"/><rect x="1341.6" y="1971.5" width="2948.0" height="3" fill="#cfcfd0"/><rect x="1341.6" y="1863.6" width="2948.0" height="3" fill="#cfcfd0"/><rect x="1341.6" y="2708.2" width="2948.0" height="2.6" fill="#c5d3ee"/><polyline points="1340.3,1922.8 1608.4,1939.2 1876.5,1947.6 2144.6,1971.3 2412.7,2273.9 2680.8,2660.3 2948.9,2671.0 3217.0,2407.5 3485.1,2234.5 3753.2,2260.8 4021.3,2295.2 4289.4,2260.9" fill="none" stroke="#0b306e" stroke-width="9.2" stroke-linejoin="round"/><ellipse cx="1340.3" cy="1922.8" rx="15" ry="17.5" fill="#0b306e"/><ellipse cx="1608.4" cy="1939.2" rx="15" ry="17.5" fill="#0b306e"/><ellipse cx="1876.5" cy="1947.6" rx="15" ry="17.5" fill="#0b306e"/><ellipse cx="2144.6" cy="1971.3" rx="15" ry="17.5" fill="#0b306e"/><ellipse cx="2412.7" cy="2273.9" rx="15" ry="17.5" fill="#0b306e"/><ellipse cx="2680.8" cy="2660.3" rx="15" ry="17.5" fill="#0b306e"/><ellipse cx="2948.9" cy="2671.0" rx="15" ry="17.5" fill="#0b306e"/><ellipse cx="3217.0" cy="2407.5" rx="15" ry="17.5" fill="#0b306e"/><ellipse cx="3485.1" cy="2234.5" rx="15" ry="17.5" fill="#0b306e"/><ellipse cx="3753.2" cy="2260.8" rx="15" ry="17.5" fill="#0b306e"/><ellipse cx="4021.3" cy="2295.2" rx="15" ry="17.5" fill="#0b306e"/><ellipse cx="4289.4" cy="2260.9" rx="15" ry="17.5" fill="#0b306e"/><polyline points="1340.3,2641.0 1608.4,2641.0 1876.5,2641.0 2144.6,2641.0 2412.7,2641.0 2680.8,2641.0 2948.9,2641.0 3217.0,2656.8 3485.1,2656.8 3753.2,2656.8 4021.3,2656.8 4289.4,2656.8" fill="none" stroke="#808080" stroke-width="9" stroke-dasharray="33 24.5"/><ellipse cx="1340.3" cy="2641.0" rx="15" ry="17.5" fill="#808080"/><ellipse cx="1608.4" cy="2641.0" rx="15" ry="17.5" fill="#808080"/><ellipse cx="1876.5" cy="2641.0" rx="15" ry="17.5" fill="#808080"/><ellipse cx="2144.6" cy="2641.0" rx="15" ry="17.5" fill="#808080"/><ellipse cx="2412.7" cy="2641.0" rx="15" ry="17.5" fill="#808080"/><ellipse cx="2680.8" cy="2641.0" rx="15" ry="17.5" fill="#808080"/><ellipse cx="2948.9" cy="2641.0" rx="15" ry="17.5" fill="#808080"/><ellipse cx="3217.0" cy="2656.8" rx="15" ry="17.5" fill="#808080"/><ellipse cx="3485.1" cy="2656.8" rx="15" ry="17.5" fill="#808080"/><ellipse cx="3753.2" cy="2656.8" rx="15" ry="17.5" fill="#808080"/><ellipse cx="4021.3" cy="2656.8" rx="15" ry="17.5" fill="#808080"/><ellipse cx="4289.4" cy="2656.8" rx="15" ry="17.5" fill="#808080"/></svg>
<span class="t" style="left:622.7px;top:2237.5px;font-size:28.0px;color:#a1a5b3;transform:scaleX(0.8600);transform-origin:100% 50%;">-100 T €</span>
<span class="t" style="left:687.1px;top:2130.4px;font-size:28.0px;color:#a1a5b3;transform:scaleX(0.8600);transform-origin:100% 50%;">0 €</span>
<span class="t" style="left:632.1px;top:2025.1px;font-size:28.0px;color:#a1a5b3;transform:scaleX(0.8600);transform-origin:100% 50%;">100 T €</span>
<span class="t" style="left:632.1px;top:1919.8px;font-size:28.0px;color:#a1a5b3;transform:scaleX(0.8600);transform-origin:100% 50%;">200 T €</span>
<span class="t" style="left:632.1px;top:1813.9px;font-size:28.0px;color:#a1a5b3;transform:scaleX(0.8600);transform-origin:100% 50%;">300 T €</span>
<span class="t" style="left:632.1px;top:1708.6px;font-size:28.0px;color:#a1a5b3;transform:scaleX(0.8600);transform-origin:100% 50%;">400 T €</span>
<span class="t" style="left:632.1px;top:1602.7px;font-size:28.0px;color:#a1a5b3;transform:scaleX(0.8600);transform-origin:100% 50%;">500 T €</span>
<span class="t" style="left:632.1px;top:1498.5px;font-size:28.0px;color:#a1a5b3;transform:scaleX(0.8600);transform-origin:100% 50%;">600 T €</span>
<span class="t" style="left:632.1px;top:1395.5px;font-size:28.0px;color:#a1a5b3;transform:scaleX(0.8600);transform-origin:100% 50%;">700 T €</span>
<span class="t" style="left:769.7px;top:2286.7px;font-size:28.0px;color:#a1a5b3;transform:scaleX(0.8810);transform-origin:50% 50%;">Jan 2023</span>
<span class="t" style="left:1036.2px;top:2286.7px;font-size:28.0px;color:#a1a5b3;transform:scaleX(0.8579);transform-origin:50% 50%;">Feb 2023</span>
<span class="t" style="left:1304.4px;top:2286.7px;font-size:28.0px;color:#a1a5b3;transform:scaleX(0.8581);transform-origin:50% 50%;">Mär 2023</span>
<span class="t" style="left:1574.8px;top:2286.7px;font-size:28.0px;color:#a1a5b3;transform:scaleX(0.8932);transform-origin:50% 50%;">Apr 2023</span>
<span class="t" style="left:1842.1px;top:2286.7px;font-size:28.0px;color:#a1a5b3;transform:scaleX(0.8812);transform-origin:50% 50%;">Mai 2023</span>
<span class="t" style="left:2110.2px;top:2286.7px;font-size:28.0px;color:#a1a5b3;transform:scaleX(0.8810);transform-origin:50% 50%;">Jun 2023</span>
<span class="t" style="left:2383.0px;top:2286.7px;font-size:28.0px;color:#a1a5b3;transform:scaleX(0.9588);transform-origin:50% 50%;">Jul 2023</span>
<span class="t" style="left:2644.1px;top:2286.7px;font-size:28.0px;color:#a1a5b3;transform:scaleX(0.8466);transform-origin:50% 50%;">Aug 2023</span>
<span class="t" style="left:2912.2px;top:2286.7px;font-size:28.0px;color:#a1a5b3;transform:scaleX(0.8466);transform-origin:50% 50%;">Sep 2023</span>
<span class="t" style="left:3183.4px;top:2286.7px;font-size:28.0px;color:#a1a5b3;transform:scaleX(0.8933);transform-origin:50% 50%;">Okt 2023</span>
<span class="t" style="left:3448.4px;top:2286.7px;font-size:28.0px;color:#a1a5b3;transform:scaleX(0.8468);transform-origin:50% 50%;">Nov 2023</span>
<span class="t" style="left:3657.7px;top:2286.7px;font-size:28.0px;color:#a1a5b3;transform:scaleX(0.8593);transform-origin:100% 50%;">Dez 2023</span>
<span class="t" style="left:828.3px;top:2147.5px;font-size:21.5px;color:#3f4254;transform:scaleX(0.8400);transform-origin:0 50%;text-shadow:-1.5px -1.5px 0 #fff,1.5px -1.5px 0 #fff,-1.5px 1.5px 0 #fff,1.5px 1.5px 0 #fff,0 2px 0 #fff,0 -2px 0 #fff,2px 0 0 #fff,-2px 0 0 #fff;">-35,0</span>
<span class="t" style="left:828.3px;top:1429.3px;font-size:21.5px;color:#3f4254;transform:scaleX(0.8400);transform-origin:0 50%;text-shadow:-1.5px -1.5px 0 #fff,1.5px -1.5px 0 #fff,-1.5px 1.5px 0 #fff,1.5px 1.5px 0 #fff,0 2px 0 #fff,0 -2px 0 #fff,2px 0 0 #fff,-2px 0 0 #fff;">647</span>
<span class="t" style="left:1070.9px;top:2147.5px;font-size:21.5px;color:#3f4254;transform:scaleX(0.8400);transform-origin:50% 50%;text-shadow:-1.5px -1.5px 0 #fff,1.5px -1.5px 0 #fff,-1.5px 1.5px 0 #fff,1.5px 1.5px 0 #fff,0 2px 0 #fff,0 -2px 0 #fff,2px 0 0 #fff,-2px 0 0 #fff;">-35,0</span>
<span class="t" style="left:1077.5px;top:1445.7px;font-size:21.5px;color:#3f4254;transform:scaleX(0.8400);transform-origin:50% 50%;text-shadow:-1.5px -1.5px 0 #fff,1.5px -1.5px 0 #fff,-1.5px 1.5px 0 #fff,1.5px 1.5px 0 #fff,0 2px 0 #fff,0 -2px 0 #fff,2px 0 0 #fff,-2px 0 0 #fff;">631</span>
<span class="t" style="left:1339.0px;top:2147.5px;font-size:21.5px;color:#3f4254;transform:scaleX(0.8400);transform-origin:50% 50%;text-shadow:-1.5px -1.5px 0 #fff,1.5px -1.5px 0 #fff,-1.5px 1.5px 0 #fff,1.5px 1.5px 0 #fff,0 2px 0 #fff,0 -2px 0 #fff,2px 0 0 #fff,-2px 0 0 #fff;">-35,0</span>
<span class="t" style="left:1345.6px;top:1454.1px;font-size:21.5px;color:#3f4254;transform:scaleX(0.8400);transform-origin:50% 50%;text-shadow:-1.5px -1.5px 0 #fff,1.5px -1.5px 0 #fff,-1.5px 1.5px 0 #fff,1.5px 1.5px 0 #fff,0 2px 0 #fff,0 -2px 0 #fff,2px 0 0 #fff,-2px 0 0 #fff;">624</span>
<span class="t" style="left:1607.1px;top:2147.5px;font-size:21.5px;color:#3f4254;transform:scaleX(0.8400);transform-origin:50% 50%;text-shadow:-1.5px -1.5px 0 #fff,1.5px -1.5px 0 #fff,-1.5px 1.5px 0 #fff,1.5px 1.5px 0 #fff,0 2px 0 #fff,0 -2px 0 #fff,2px 0 0 #fff,-2px 0 0 #fff;">-35,0</span>
<span class="t" style="left:1613.7px;top:1477.8px;font-size:21.5px;color:#3f4254;transform:scaleX(0.8400);transform-origin:50% 50%;text-shadow:-1.5px -1.5px 0 #fff,1.5px -1.5px 0 #fff,-1.5px 1.5px 0 #fff,1.5px 1.5px 0 #fff,0 2px 0 #fff,0 -2px 0 #fff,2px 0 0 #fff,-2px 0 0 #fff;">602</span>
<span class="t" style="left:1875.2px;top:2147.5px;font-size:21.5px;color:#3f4254;transform:scaleX(0.8400);transform-origin:50% 50%;text-shadow:-1.5px -1.5px 0 #fff,1.5px -1.5px 0 #fff,-1.5px 1.5px 0 #fff,1.5px 1.5px 0 #fff,0 2px 0 #fff,0 -2px 0 #fff,2px 0 0 #fff,-2px 0 0 #fff;">-35,0</span>
<span class="t" style="left:1881.8px;top:1780.4px;font-size:21.5px;color:#3f4254;transform:scaleX(0.8400);transform-origin:50% 50%;text-shadow:-1.5px -1.5px 0 #fff,1.5px -1.5px 0 #fff,-1.5px 1.5px 0 #fff,1.5px 1.5px 0 #fff,0 2px 0 #fff,0 -2px 0 #fff,2px 0 0 #fff,-2px 0 0 #fff;">315</span>
<span class="t" style="left:2143.3px;top:2166.8px;font-size:21.5px;color:#3f4254;transform:scaleX(0.8400);transform-origin:50% 50%;text-shadow:-1.5px -1.5px 0 #fff,1.5px -1.5px 0 #fff,-1.5px 1.5px 0 #fff,1.5px 1.5px 0 #fff,0 2px 0 #fff,0 -2px 0 #fff,2px 0 0 #fff,-2px 0 0 #fff;">-53,4</span>
<span class="t" style="left:2411.4px;top:2147.5px;font-size:21.5px;color:#3f4254;transform:scaleX(0.8400);transform-origin:50% 50%;text-shadow:-1.5px -1.5px 0 #fff,1.5px -1.5px 0 #fff,-1.5px 1.5px 0 #fff,1.5px 1.5px 0 #fff,0 2px 0 #fff,0 -2px 0 #fff,2px 0 0 #fff,-2px 0 0 #fff;">-35,0</span>
<span class="t" style="left:2411.4px;top:2177.5px;font-size:21.5px;color:#3f4254;transform:scaleX(0.8400);transform-origin:50% 50%;text-shadow:-1.5px -1.5px 0 #fff,1.5px -1.5px 0 #fff,-1.5px 1.5px 0 #fff,1.5px 1.5px 0 #fff,0 2px 0 #fff,0 -2px 0 #fff,2px 0 0 #fff,-2px 0 0 #fff;">-63,5</span>
<span class="t" style="left:2679.5px;top:2163.3px;font-size:21.5px;color:#3f4254;transform:scaleX(0.8400);transform-origin:50% 50%;text-shadow:-1.5px -1.5px 0 #fff,1.5px -1.5px 0 #fff,-1.5px 1.5px 0 #fff,1.5px 1.5px 0 #fff,0 2px 0 #fff,0 -2px 0 #fff,2px 0 0 #fff,-2px 0 0 #fff;">-50,0</span>
<span class="t" style="left:2686.1px;top:1914.0px;font-size:21.5px;color:#3f4254;transform:scaleX(0.8400);transform-origin:50% 50%;text-shadow:-1.5px -1.5px 0 #fff,1.5px -1.5px 0 #fff,-1.5px 1.5px 0 #fff,1.5px 1.5px 0 #fff,0 2px 0 #fff,0 -2px 0 #fff,2px 0 0 #fff,-2px 0 0 #fff;">187</span>
<span class="t" style="left:2947.6px;top:2163.3px;font-size:21.5px;color:#3f4254;transform:scaleX(0.8400);transform-origin:50% 50%;text-shadow:-1.5px -1.5px 0 #fff,1.5px -1.5px 0 #fff,-1.5px 1.5px 0 #fff,1.5px 1.5px 0 #fff,0 2px 0 #fff,0 -2px 0 #fff,2px 0 0 #fff,-2px 0 0 #fff;">-50,0</span>
<span class="t" style="left:2954.2px;top:1741.0px;font-size:21.5px;color:#3f4254;transform:scaleX(0.8400);transform-origin:50% 50%;text-shadow:-1.5px -1.5px 0 #fff,1.5px -1.5px 0 #fff,-1.5px 1.5px 0 #fff,1.5px 1.5px 0 #fff,0 2px 0 #fff,0 -2px 0 #fff,2px 0 0 #fff,-2px 0 0 #fff;">353</span>
<span class="t" style="left:3215.7px;top:2163.3px;font-size:21.5px;color:#3f4254;transform:scaleX(0.8400);transform-origin:50% 50%;text-shadow:-1.5px -1.5px 0 #fff,1.5px -1.5px 0 #fff,-1.5px 1.5px 0 #fff,1.5px 1.5px 0 #fff,0 2px 0 #fff,0 -2px 0 #fff,2px 0 0 #fff,-2px 0 0 #fff;">-50,0</span>
<span class="t" style="left:3222.3px;top:1767.3px;font-size:21.5px;color:#3f4254;transform:scaleX(0.8400);transform-origin:50% 50%;text-shadow:-1.5px -1.5px 0 #fff,1.5px -1.5px 0 #fff,-1.5px 1.5px 0 #fff,1.5px 1.5px 0 #fff,0 2px 0 #fff,0 -2px 0 #fff,2px 0 0 #fff,-2px 0 0 #fff;">328</span>
<span class="t" style="left:3483.8px;top:2163.3px;font-size:21.5px;color:#3f4254;transform:scaleX(0.8400);transform-origin:50% 50%;text-shadow:-1.5px -1.5px 0 #fff,1.5px -1.5px 0 #fff,-1.5px 1.5px 0 #fff,1.5px 1.5px 0 #fff,0 2px 0 #fff,0 -2px 0 #fff,2px 0 0 #fff,-2px 0 0 #fff;">-50,0</span>
<span class="t" style="left:3490.4px;top:1801.7px;font-size:21.5px;color:#3f4254;transform:scaleX(0.8400);transform-origin:50% 50%;text-shadow:-1.5px -1.5px 0 #fff,1.5px -1.5px 0 #fff,-1.5px 1.5px 0 #fff,1.5px 1.5px 0 #fff,0 2px 0 #fff,0 -2px 0 #fff,2px 0 0 #fff,-2px 0 0 #fff;">295</span>
<span class="t" style="left:3728.4px;top:2163.3px;font-size:21.5px;color:#3f4254;transform:scaleX(0.8400);transform-origin:100% 50%;text-shadow:-1.5px -1.5px 0 #fff,1.5px -1.5px 0 #fff,-1.5px 1.5px 0 #fff,1.5px 1.5px 0 #fff,0 2px 0 #fff,0 -2px 0 #fff,2px 0 0 #fff,-2px 0 0 #fff;">-50,0</span>
<span class="t" style="left:3741.5px;top:1767.4px;font-size:21.5px;color:#3f4254;transform:scaleX(0.8400);transform-origin:100% 50%;text-shadow:-1.5px -1.5px 0 #fff,1.5px -1.5px 0 #fff,-1.5px 1.5px 0 #fff,1.5px 1.5px 0 #fff,0 2px 0 #fff,0 -2px 0 #fff,2px 0 0 #fff,-2px 0 0 #fff;">328</span>
<div class="r" style="left:1722px;top:2399.5px;width:52px;height:32.3px;border-radius:17px;border:2px solid #c9c9cc;box-sizing:border-box;background:#fff"></div><div class="r" style="left:1748.6px;top:2403px;width:20px;height:26px;border-radius:50%;background:#0b306e"></div>
<span class="t" style="left:1791.0px;top:2398.1px;font-size:35.0px;color:#3f4254;transform:scaleX(0.8635);transform-origin:0 50%;">Liquide Mittel im Monatsverlauf</span>
<div class="r" style="left:2314.6px;top:2399.5px;width:52px;height:32.3px;border-radius:17px;border:2px solid #c9c9cc;box-sizing:border-box;background:#fff"></div><div class="r" style="left:2341px;top:2403px;width:20px;height:26px;border-radius:50%;background:#808080"></div>
<span class="t" style="left:2382.8px;top:2398.1px;font-size:35.0px;color:#3f4254;transform:scaleX(0.8457);transform-origin:0 50%;">Kontokorrentlinie (KKL)</span>
<div class="r" style="left:3749.1000000000004px;top:2383.2px;width:126.8px;height:147.7px;border-radius:50%;background:#0b306e;box-shadow:0 8px 26px rgba(40,50,80,.20)"></div>
<svg class="a" style="left:3749px;top:2383px" width="127" height="148" viewBox="4262 2847 127 148"><path d="M 4303.7,2897.6 C 4307.1,2889.5 4315.3,2881.1 4326.1,2881.1 C 4341.0,2881.1 4351.2,2890.9 4351.2,2904.4 C 4351.2,2915.3 4343.8,2921.4 4338.3,2924.8 C 4334.9,2927.5 4334.5,2930.2 4334.3,2934.9 L 4319.1,2934.9 C 4316.6,2926.1 4319.3,2919.3 4326.1,2913.9 C 4331.6,2910.1 4335.6,2907.8 4335.6,2903.7 C 4335.6,2899.0 4330.9,2897.0 4326.1,2897.0 C 4320.7,2897.0 4316.6,2901.7 4313.6,2907.1 Z" fill="#fff"/><ellipse cx="4326.1" cy="2950.5" rx="9.4" ry="10.9" fill="#fff"/></svg>
<svg class="a" style="left:0;top:0" width="3947" height="2591" viewBox="513 464 3947 2591"><path d="M881.5,772.2 L889.0,781.8 L896.5,772.2" fill="none" stroke="#1e1e2d" stroke-width="2.8" stroke-linecap="round" stroke-linejoin="round"/><path d="M881.5,868.8 L889.0,878.2 L896.5,868.8" fill="none" stroke="#1e1e2d" stroke-width="2.8" stroke-linecap="round" stroke-linejoin="round"/><path d="M881.5,966.0 L889.0,975.5 L896.5,966.0" fill="none" stroke="#1e1e2d" stroke-width="2.8" stroke-linecap="round" stroke-linejoin="round"/><path d="M881.5,1064.7 L889.0,1074.2 L896.5,1064.7" fill="none" stroke="#1e1e2d" stroke-width="2.8" stroke-linecap="round" stroke-linejoin="round"/><path d="M881.5,1176.0 L889.0,1166.5 L896.5,1176.0" fill="none" stroke="#1e1e2d" stroke-width="2.8" stroke-linecap="round" stroke-linejoin="round"/><path d="M4260.6,540.8 L4273.8,555.8 L4287.1,540.8" fill="none" stroke="#3f4254" stroke-width="4.8" stroke-linecap="round" stroke-linejoin="round"/><rect x="564.6" y="660.7" width="14.2" height="44.6" rx="4" ry="4" fill="none" stroke="#1762d9" stroke-width="4.4"/><rect x="586.6" y="660.7" width="15.0" height="17.5" rx="4" ry="4" fill="none" stroke="#1762d9" stroke-width="4.4"/><rect x="586.6" y="687" width="15.0" height="18.3" rx="4" ry="4" fill="none" stroke="#1762d9" stroke-width="4.4"/><path d="M568.7,754.9 H591 L599.2,764 V801.4 H568.7 Z" fill="none" stroke="#1762d9" stroke-width="4.4" stroke-linecap="round" stroke-linejoin="miter"/><path d="M589.3,755.5 V766 H598.5" fill="none" stroke="#1762d9" stroke-width="3.5" stroke-linecap="butt" stroke-linejoin="miter"/><path d="M574.5,763.2 H580.4 M574.5,769.7 H584" fill="none" stroke="#1762d9" stroke-width="3.6" stroke-linecap="round" stroke-linejoin="round"/><path d="M575.9,790.9 V791.3 M581,786 V791.5 M586.6,780 V791.5 M592.3,781.6 V791.5" fill="none" stroke="#1762d9" stroke-width="3.6" stroke-linecap="round" stroke-linejoin="round"/><rect x="564.6" y="862.9" width="7.9" height="34.6" rx="4" ry="4" fill="none" stroke="#1762d9" stroke-width="4.4"/><rect x="578.8" y="853.7" width="8.2" height="43.8" rx="4" ry="4" fill="none" stroke="#1762d9" stroke-width="4.4"/><rect x="593.5" y="877" width="8.1" height="20.5" rx="4" ry="4" fill="none" stroke="#1762d9" stroke-width="4.4"/><ellipse cx="573.4" cy="960.8" rx="5.2" ry="6" fill="none" stroke="#1762d9" stroke-width="3.6"/><ellipse cx="592.2" cy="960.8" rx="5.2" ry="6" fill="none" stroke="#1762d9" stroke-width="3.6"/><ellipse cx="582.8" cy="977.8" rx="5.2" ry="6" fill="none" stroke="#1762d9" stroke-width="3.6"/><path d="M564,977 Q565,968.6 573.4,968.6 Q579,968.6 582.8,971.8 Q586.6,968.6 592.2,968.6 Q600.6,968.6 601.7,977" fill="none" stroke="#1762d9" stroke-width="3.6" stroke-linecap="round" stroke-linejoin="round"/><path d="M573,995 Q574,985.6 582.8,985.6 Q591.6,985.6 592.8,995" fill="none" stroke="#1762d9" stroke-width="3.6" stroke-linecap="round" stroke-linejoin="round"/><path d="M564.5,1050.6 L582.8,1058 L601.4,1050.6 V1083.7 L582.8,1091.9 L564.5,1083.7 Z M582.8,1058 V1091.9" fill="none" stroke="#1762d9" stroke-width="4.4" stroke-linecap="round" stroke-linejoin="round"/><path d="M573.4,1157.5 L594.4,1148.9 L598.7,1160.8 L576.5,1170 Z" fill="none" stroke="#1762d9" stroke-width="2.6" stroke-linecap="round" stroke-linejoin="round"/><path d="M595.6,1147 L598.6,1145.6 L603.6,1159.4 L600.6,1160.8 Z" fill="none" stroke="#1762d9" stroke-width="2.6" stroke-linecap="round" stroke-linejoin="round"/><path d="M573.4,1157.5 L565.5,1163.5 L568,1171.5 L576.5,1170 M569.5,1162 L571.5,1169.5 M564.2,1163.8 L566.3,1172.3" fill="none" stroke="#1762d9" stroke-width="2.6" stroke-linecap="round" stroke-linejoin="round"/><ellipse cx="583.9" cy="1166.4" rx="2.4" ry="2.8" fill="#eaf2fa" stroke="#1762d9" stroke-width="2.4"/><path d="M583,1170 L576,1192.3 M583.9,1170 V1192.3 M584.8,1170 L592.2,1192.3" fill="none" stroke="#1762d9" stroke-width="2.6" stroke-linecap="butt" stroke-linejoin="round"/><path d="M582.4,1331 H565.8 V1369.9 H599.6 V1351.2" fill="none" stroke="#1762d9" stroke-width="4" stroke-linecap="butt" stroke-linejoin="miter"/><path d="M576.6,1357.3 V1352.6 L595,1330.6 L599.9,1336.4 L581.2,1357.3 Z" fill="none" stroke="#1762d9" stroke-width="3" stroke-linecap="round" stroke-linejoin="miter"/><ellipse cx="582.9" cy="2977.4" rx="4.7" ry="5.8" fill="none" stroke="#1762d9" stroke-width="3.6"/><path d="M575.2,2988.3 H587 V3004.4 H590.4 M578.6,2988.3 V3004.4 H587" fill="none" stroke="#1762d9" stroke-width="3.8" stroke-linecap="round" stroke-linejoin="miter"/><path d="M568.6,2996.8 A19.4,12.4 0 1 0 597.4,2996.8" fill="none" stroke="#1762d9" stroke-width="3.8" stroke-linecap="round" stroke-linejoin="round"/><path d="M3647.7,560.9 V546 A12.35,15.3 0 0 1 3672.4,546 V560.9" fill="none" stroke="#1762d9" stroke-width="4.4" stroke-linecap="butt" stroke-linejoin="round"/><path d="M3646.4,560.9 H3673.8" fill="none" stroke="#1762d9" stroke-width="4.6" stroke-linecap="round" stroke-linejoin="round"/><path d="M3660,525 V530 M3657.6,568.3 H3662.6" fill="none" stroke="#1762d9" stroke-width="3.6" stroke-linecap="round" stroke-linejoin="round"/><path d="M4393.9,530.0 L4394.3,523.4 L4401.5,523.4 L4401.9,530.0 L4404.3,531.2 L4408.5,526.8 L4413.6,532.9 L4409.9,537.8 L4410.9,540.7 L4416.5,541.1 L4416.5,549.7 L4410.9,550.1 L4409.9,553.0 L4413.6,557.9 L4408.5,564.0 L4404.3,559.6 L4401.9,560.8 L4401.5,567.4 L4394.3,567.4 L4393.9,560.8 L4391.5,559.6 L4387.3,564.0 L4382.2,557.9 L4385.9,553.0 L4384.9,550.1 L4379.3,549.7 L4379.3,541.1 L4384.9,540.7 L4385.9,537.8 L4382.2,532.9 L4387.3,526.8 L4391.5,531.2 Z" fill="none" stroke="#1762d9" stroke-width="2.8" stroke-linecap="round" stroke-linejoin="round"/><ellipse cx="4397.9" cy="545.4" rx="7.5" ry="9.6" fill="none" stroke="#1762d9" stroke-width="2.8"/><path d="M1785.6,546 L1791.6,538.4 L1797.6,546 Z M1785.6,554.2 L1791.6,561.6 L1797.6,554.2 Z" fill="#9b9ca3"/><path d="M1088.4,882.7 L1103.8,896.7 L1088.4,910.7 Z" fill="#1762d9"/><path d="M1088.4,949.2 L1103.8,963.2 L1088.4,977.2 Z" fill="#1762d9"/></svg>
</div>
<svg class="a" style="left:0;top:0" width="5000" height="3750" viewBox="0 0 5000 3750"><defs><linearGradient id="bz" x1="0" y1="0" x2="0" y2="1"><stop offset="0" stop-color="#000"/><stop offset=".38" stop-color="#010102"/><stop offset=".7" stop-color="#0d0d14"/><stop offset=".92" stop-color="#171721"/><stop offset="1" stop-color="#171721"/></linearGradient><linearGradient id="b1" x1="0" y1="0" x2="1" y2="0"><stop offset="0" stop-color="#4b5356"/><stop offset=".006" stop-color="#50585b"/><stop offset=".0226" stop-color="#d9e1e7"/><stop offset=".0376" stop-color="#d1d9df"/><stop offset=".962" stop-color="#d1d9df"/><stop offset=".9757" stop-color="#dde3ec"/><stop offset=".9965" stop-color="#2d313f"/><stop offset="1" stop-color="#2b2f3d"/></linearGradient><linearGradient id="b2" x1="0" y1="0" x2="0" y2="1"><stop offset="0" stop-color="#929a9c"/><stop offset=".45" stop-color="#6a7174"/><stop offset=".8" stop-color="#454a50"/><stop offset="1" stop-color="#3a3e44"/></linearGradient><linearGradient id="nt" x1="0" y1="0" x2="1" y2="0"><stop offset="0" stop-color="#6f787b"/><stop offset=".07" stop-color="#a7b1b5"/><stop offset=".93" stop-color="#a7b1b5"/><stop offset="1" stop-color="#6f787b"/></linearGradient></defs><path d="M649,425 H4340.5 A173,173 0 0 1 4513.5,598 V3131 A42,42 0 0 1 4471.5,3173 H518 A42,42 0 0 1 476,3131 V598 A173,173 0 0 1 649,425 Z M655,467 H4333 A140,140 0 0 1 4473,607 V3058 H515 V607 A140,140 0 0 1 655,467 Z" fill="#a7b1b6" fill-rule="evenodd"/><path d="M650,435.5 H4340.5 A163,163 0 0 1 4503.5,598.5 V3139 A34,34 0 0 1 4469.5,3173 H521 A34,34 0 0 1 487,3139 V598.5 A163,163 0 0 1 650,435.5 Z M655,467 H4333 A140,140 0 0 1 4473,607 V3058 H515 V607 A140,140 0 0 1 655,467 Z" fill="url(#bz)" fill-rule="evenodd"/><path d="M87,3302 V3283 L108,3283 L447,3243 Q1500,3262 2500,3266 Q3500,3262 4593,3243 L4887,3283 L4901,3283 V3302 Z" fill="#020203"/><path d="M85,3205 H4901 V3284 L4887,3284 L4593,3244 Q3500,3263 2500,3267 Q1500,3263 447,3244 L108,3284 L85,3284 Z" fill="url(#b2)"/><path d="M110,3284.5 L447,3245.5 M4593,3245.5 L4885,3284.5" stroke="#1a1a26" stroke-width="3" fill="none"/><path d="M95,3171 H4894 A10,10 0 0 1 4904,3181 V3187 A20,20 0 0 1 4884,3207 H105 A20,20 0 0 1 85,3187 V3181 A10,10 0 0 1 95,3171 Z" fill="url(#b1)"/><path d="M2037,3171 H2952 V3200 Q2952,3218 2860,3218 H2130 Q2037,3218 2037,3200 Z" fill="url(#nt)"/></svg>
</body></html>
